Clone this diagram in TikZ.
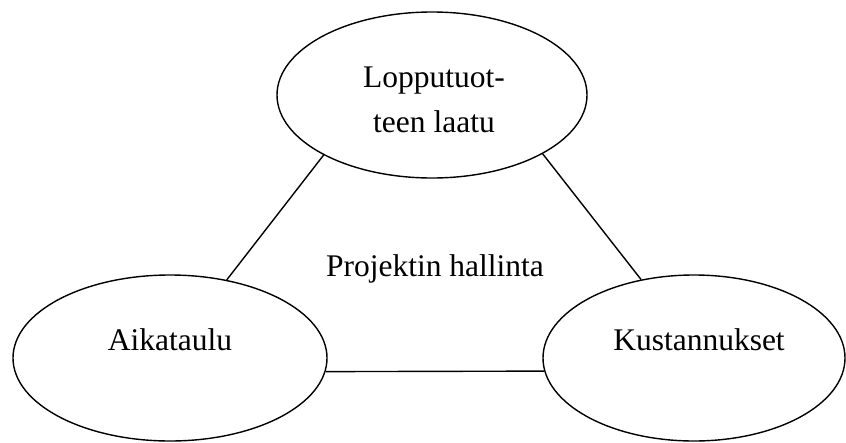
\documentclass[tikz,border=0pt]{standalone}
\usepackage{fontspec}
\setmainfont{Liberation Serif}
\usetikzlibrary{shapes.geometric}

\begin{document}
\begin{tikzpicture}[x=1pt, y=-1pt, line width=1.4pt,
    oval/.style={draw, ellipse, inner sep=0pt},
    every node/.style={font=\fontsize{31.5}{45}\selectfont}]
    \useasboundingbox (0,0) rectangle (846,442);

    % Ellipses
    \node[oval, minimum width=310pt, minimum height=166pt] (quality) at (432,95) {};
    \node[oval, minimum width=314pt, minimum height=166pt] (schedule) at (170,358) {};
    \node[oval, minimum width=302pt, minimum height=166pt] (costs) at (694,358) {};

    % Texts
    \node[align=center] (qualityText) at (434,100) {Lopputuot-\\teen laatu};
    \node[anchor=base] (scheduleText) at (170,350) {Aikataulu};
    \node[anchor=base] (costsText) at (699,350) {Kustannukset};
    \node[anchor=base] (mgmtText) at (435,276) {Projektin hallinta};

    % Connectors
    \draw (quality.209) -- (schedule.54);
    \draw (quality.-28) -- (costs.124);
    \draw (schedule.-5) -- (costs.185);
  \end{tikzpicture}
\end{document}
